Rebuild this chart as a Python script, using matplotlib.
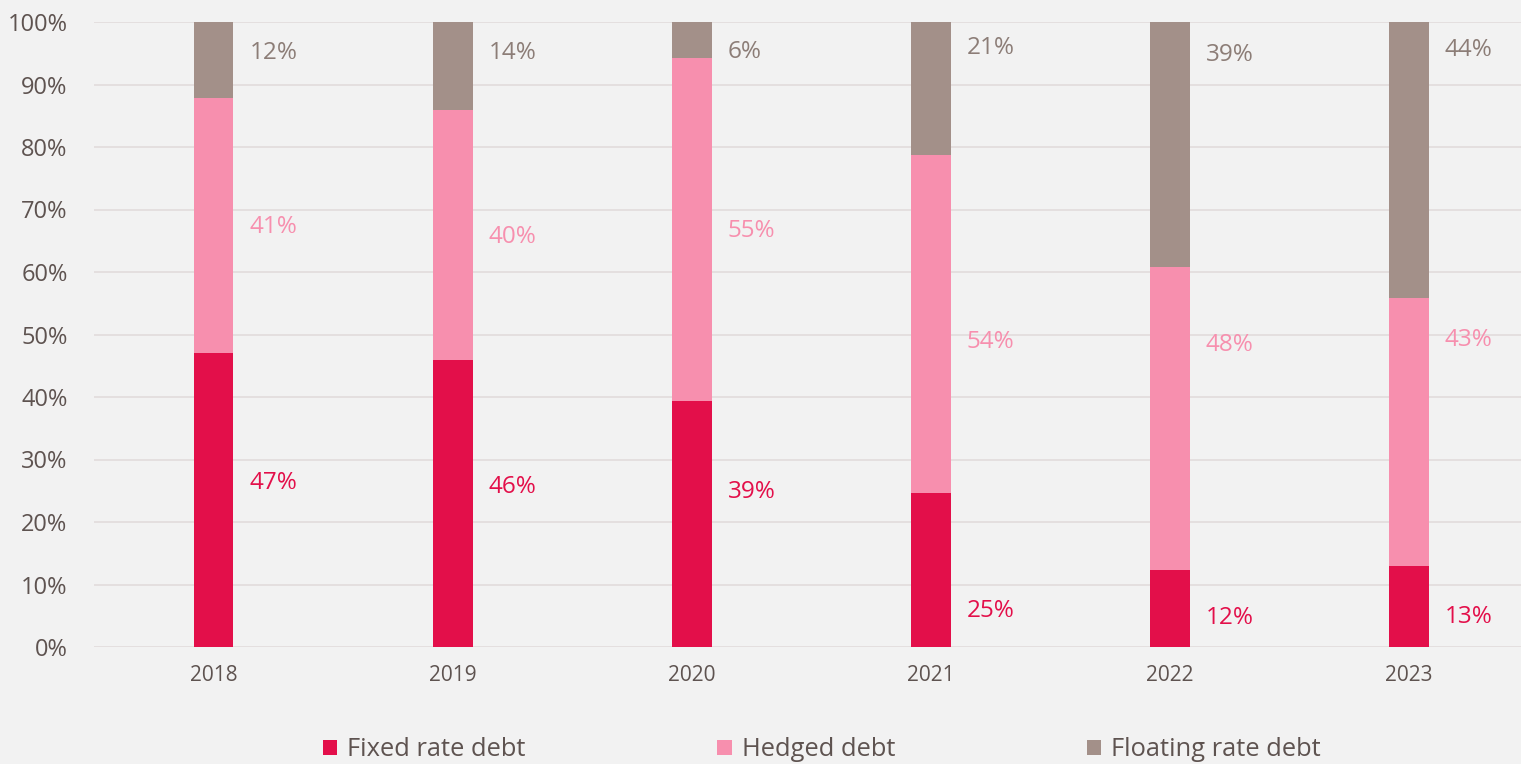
import matplotlib
matplotlib.use("Agg")
import matplotlib.pyplot as plt
import numpy as np

years = ["2018", "2019", "2020", "2021", "2022", "2023"]
fixed = [47.0, 46.0, 39.4, 24.7, 12.4, 12.9]
hedged = [40.8, 40.0, 54.8, 54.1, 48.4, 43.0]
floating = [12.2, 14.0, 5.8, 21.2, 39.2, 44.1]
fixed_lbl = ["47%", "46%", "39%", "25%", "12%", "13%"]
hedged_lbl = ["41%", "40%", "55%", "54%", "48%", "43%"]
floating_lbl = ["12%", "14%", "6%", "21%", "39%", "44%"]

# label vertical placement (layout, in % of axis)
fixed_lbl_y = [26.2, 25.6, 24.8, 5.8, 4.6, 4.8]
hedged_lbl_y = [67.2, 65.6, 66.6, 48.8, 48.3, 49.1]
floating_lbl_y = [95.0, 95.0, 95.2, 95.8, 94.7, 95.5]

plt.rcParams['font.family'] = ['Open Sans', 'DejaVu Sans']
BG = "#F2F2F2"
TXT = "#5E5350"
C_FIX = "#E30F4A"
C_HED = "#F78FAE"
C_FLO = "#A39089"

W, H = 1521, 764
fig = plt.figure(figsize=(W / 100, H / 100), dpi=100, facecolor=BG)
ax = fig.add_axes([94 / W, 1 - 647 / H, (1521 - 94) / W, (647 - 22) / H], facecolor=BG)

x = np.arange(len(years))
bw = 0.167
fixed_a = np.array(fixed)
hedged_a = np.array(hedged)
floating_a = np.array(floating)
ax.bar(x, fixed_a, bw, color=C_FIX, label="Fixed rate debt", zorder=3)
ax.bar(x, hedged_a, bw, bottom=fixed_a, color=C_HED, label="Hedged debt", zorder=3)
ax.bar(x, floating_a, bw, bottom=fixed_a + hedged_a, color=C_FLO, label="Floating rate debt", zorder=3)

off = bw / 2 + 0.068
for i in range(len(years)):
    ax.text(x[i] + off, fixed_lbl_y[i], fixed_lbl[i], color=C_FIX, fontsize=17.5, ha="left", va="center")
    ax.text(x[i] + off, hedged_lbl_y[i], hedged_lbl[i], color=C_HED, fontsize=17.5, ha="left", va="center")
    ax.text(x[i] + off, floating_lbl_y[i], floating_lbl[i], color="#8C7D77", fontsize=17.5, ha="left", va="center")

ax.set_xlim(-0.5, 5.47)
ax.set_ylim(0, 100)
ax.set_yticks(np.arange(0, 101, 10))
ax.set_yticklabels([f"{v}%" for v in range(0, 101, 10)])
ax.set_xticks(x)
ax.set_xticklabels(years)
ax.grid(axis="y", color="#E3DEDE", linewidth=1.3, zorder=0)
for s in ax.spines.values():
    s.set_visible(False)
ax.tick_params(axis="y", length=0, pad=19, labelsize=17, labelcolor=TXT)
ax.tick_params(axis="x", length=0, pad=13, labelsize=15, labelcolor=TXT)

leg = fig.legend(loc="center", bbox_to_anchor=(822 / W, 1 - 750 / H), ncol=3, frameon=False,
                 fontsize=18.4, handlelength=0.55, handleheight=0.55, handletextpad=0.4,
                 columnspacing=7.5, labelcolor=TXT)

fig.savefig("out.png", dpi=100, facecolor=BG)
